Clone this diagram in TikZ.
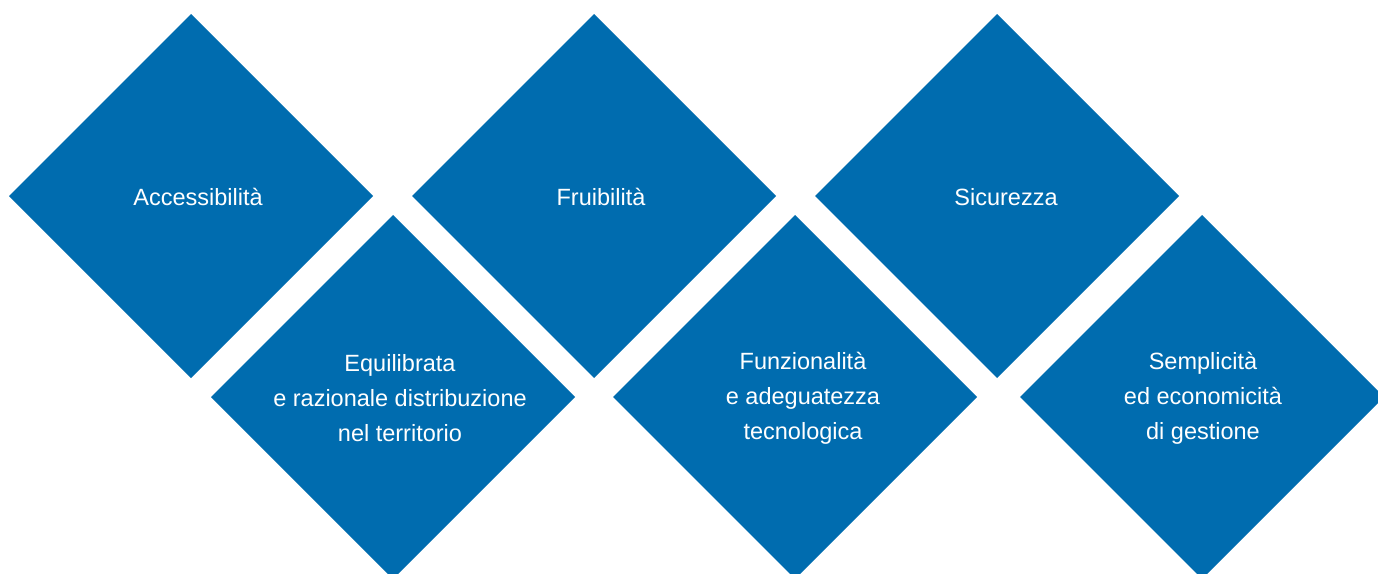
\documentclass[tikz,border=0pt]{standalone}
\usepackage{fontspec}
\setmainfont{Liberation Sans}
\usetikzlibrary{shapes.geometric}
\definecolor{rombo}{RGB}{0,108,175}
\begin{document}
\begin{tikzpicture}[x=1pt,y=-1pt,
  principio/.style={shape=diamond,aspect=1,minimum size=364pt,inner sep=0pt,outer sep=0pt,
    fill=rombo,draw=none},
  testo/.style={text=white,align=center,inner sep=0pt,font=\fontsize{23.5}{35}\selectfont}]
 \clip (0,0) rectangle (1378,573);
 \fill[white] (0,0) rectangle (1378,573);
 \node (dmnd 1) at (191,196) [principio] {};
 \node (dmnd 2) at (594,196) [principio] {};
 \node (dmnd 3) at (997,196) [principio] {};
 \node (dmnd 4) at (393,397) [principio] {};
 \node (dmnd 5) at (795,397) [principio] {};
 \node (dmnd 6) at (1202,397) [principio] {};
 \node (lbl 1) at ([xshift=7pt,yshift=-1pt]dmnd 1.center) [testo] {Accessibilità};
 \node (lbl 2) at ([xshift=7pt,yshift=-1pt]dmnd 2.center) [testo] {Fruibilità};
 \node (lbl 3) at ([xshift=9pt,yshift=-1pt]dmnd 3.center) [testo] {Sicurezza};
 \node (lbl 4) at ([xshift=7pt,yshift=-1pt]dmnd 4.center) [testo] {Equilibrata\\e razionale distribuzione\\nel territorio};
 \node (lbl 5) at ([xshift=8pt,yshift=-1pt]dmnd 5.center) [testo] {Funzionalità\\e adeguatezza\\tecnologica};
 \node (lbl 6) at ([xshift=1pt,yshift=-1pt]dmnd 6.center) [testo] {Semplicità\\ed economicità\\di gestione};
\end{tikzpicture}
\end{document}
